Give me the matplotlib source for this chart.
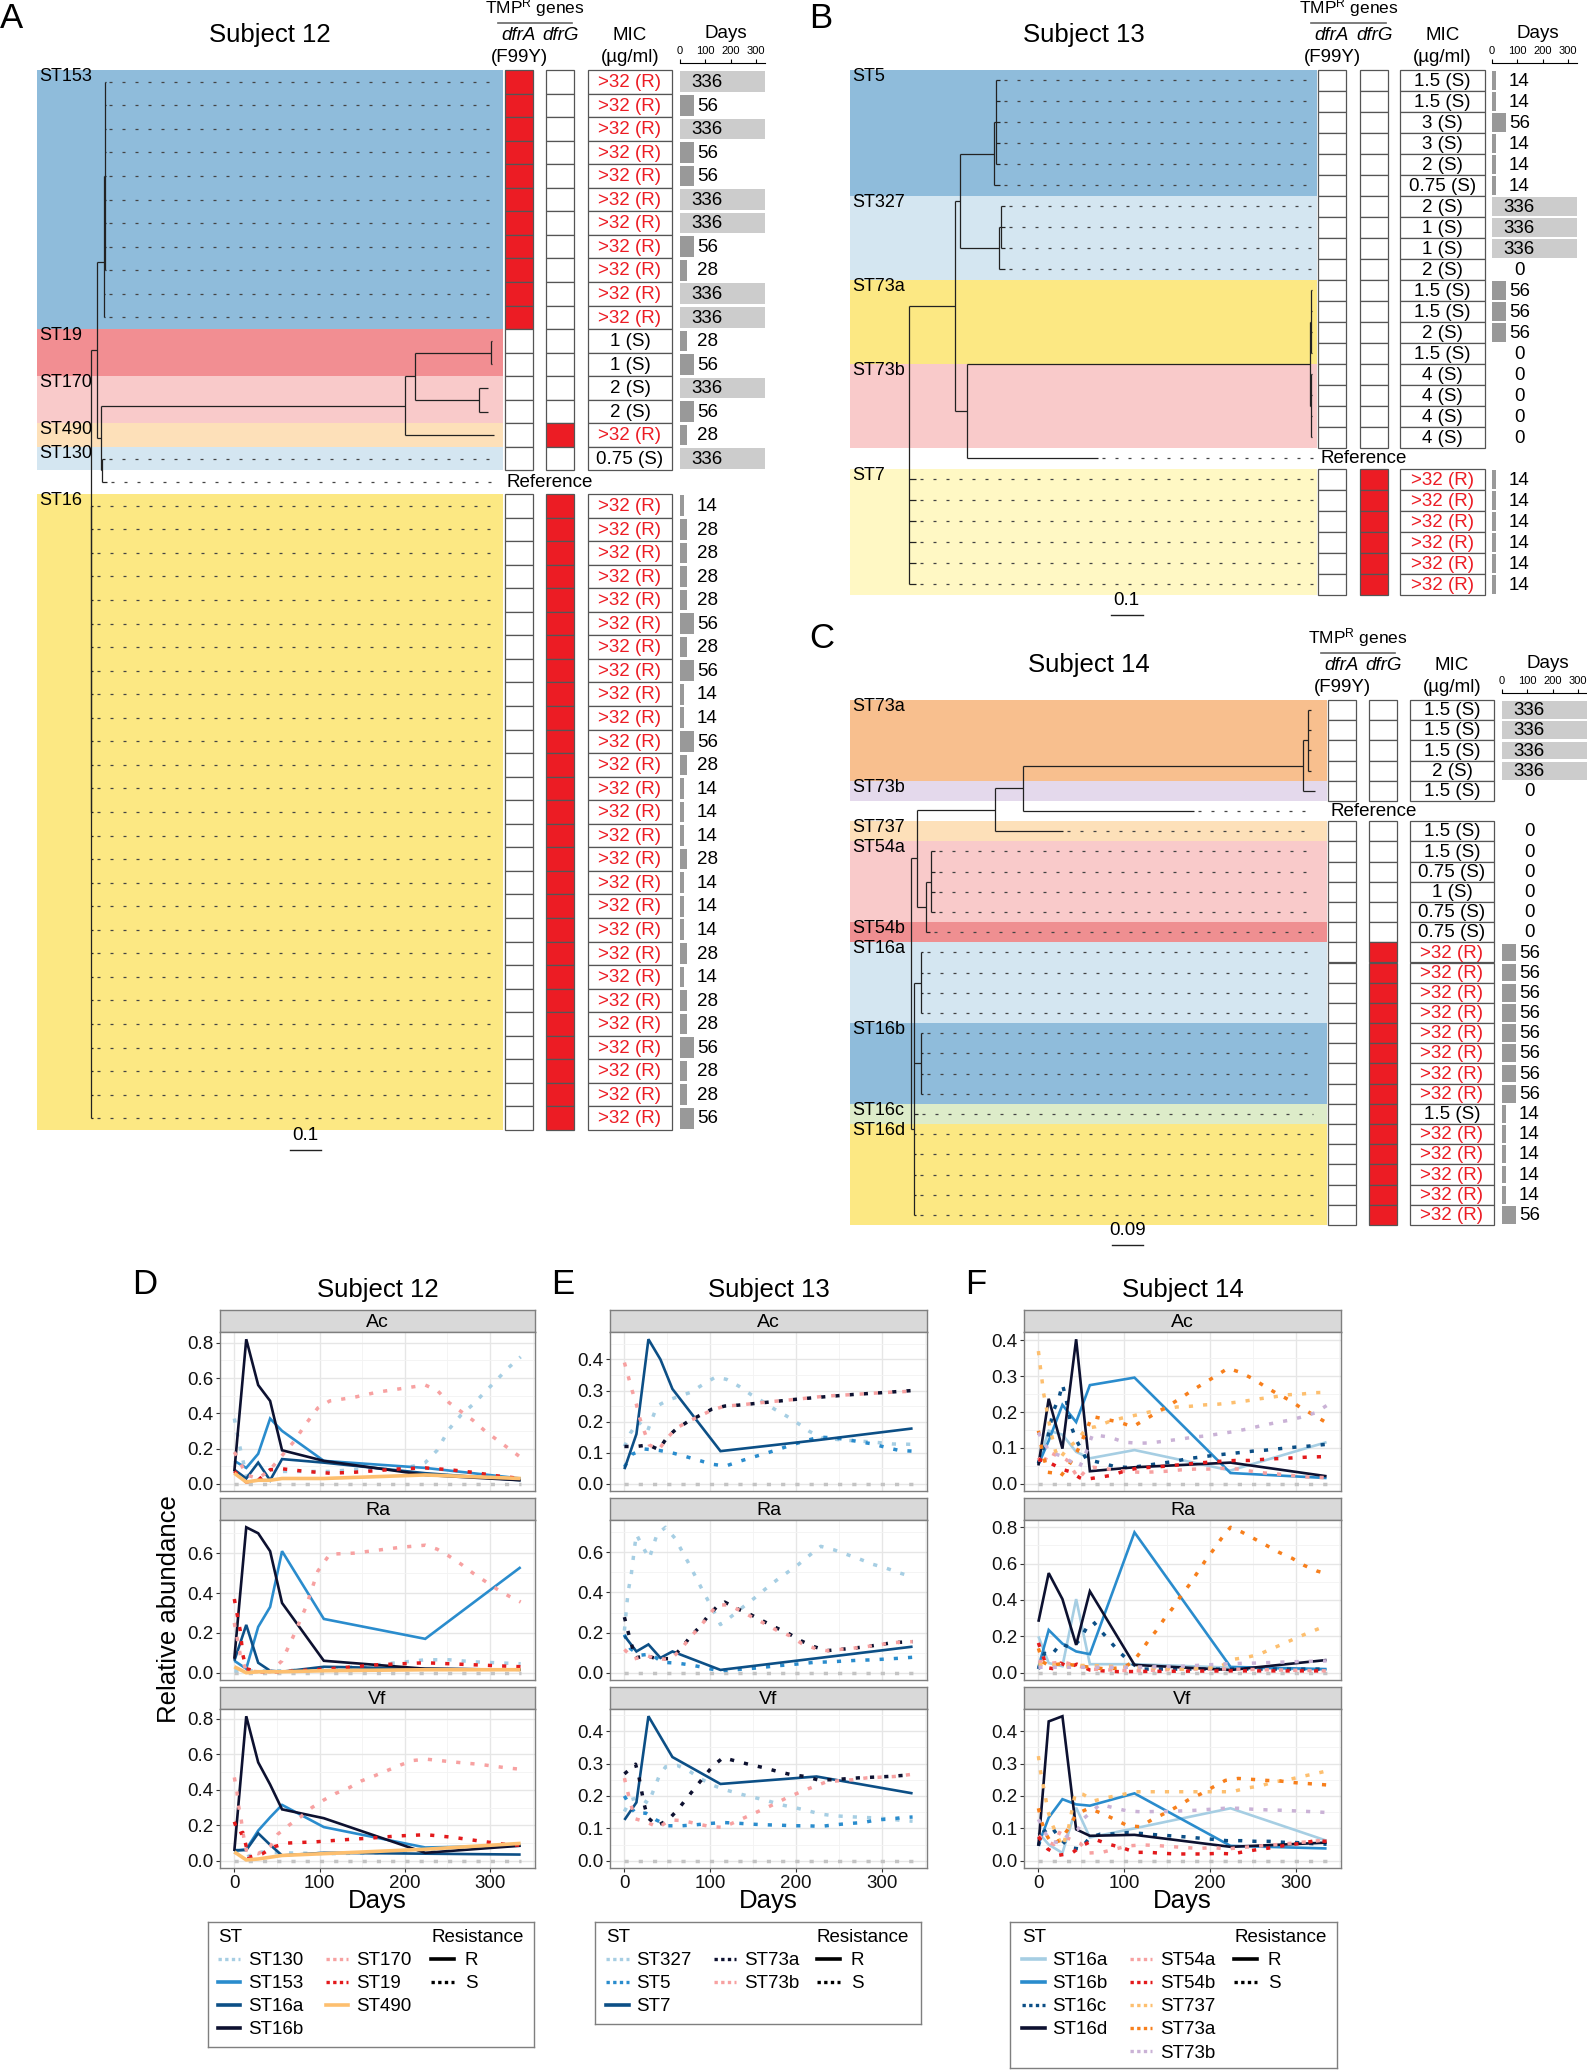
import matplotlib
matplotlib.use('Agg')
import matplotlib.pyplot as plt
from matplotlib.lines import Line2D
from matplotlib.transforms import blended_transform_factory
from matplotlib.ticker import MultipleLocator, FormatStrFormatter

plt.rcParams['font.family'] = ['Liberation Sans', 'DejaVu Sans']
plt.rcParams['mathtext.fontset'] = 'custom'
plt.rcParams['mathtext.rm'] = 'Liberation Sans'
plt.rcParams['mathtext.it'] = 'Liberation Sans:italic'

# ======================= DATA : trees / tables =======================
def leaves(prefix, n, bl):
    return [(bl, '%s_%d' % (prefix, i)) for i in range(n)]

# node = (branch_length, [children]) ; leaf = (branch_length, name)
tree12 = (0.0, [
    (0.020, [
        (0.022, [(0.002, leaves('ST153', 9, 0.003)), (0.004, 'ST153_9'), (0.004, 'ST153_10')]),
        (0.013, [
            (0.980, [
                (0.033, [(0.245, leaves('ST19', 2, 0.002)), (0.206, leaves('ST170', 2, 0.030))]),
                (0.287, 'ST490'),
            ]),
            (0.003, [(0.010, 'ST130'), (0.015, 'Reference')]),
        ]),
    ]),
    (0.0, leaves('ST16', 27, 0.008)),
])
tree13 = (0.0, [
    (0.146, [
        (0.016, [
            (0.108, [(0.005, leaves('ST5', 5, 0.015)), (0.020, 'ST5_5')]),
            (0.124, [(0.005, leaves('ST327', 3, 0.015)), (0.020, 'ST327_3')]),
        ]),
        (0.038, [
            (1.089, [(0.003, leaves('ST73a', 4, 0.004)), (0.003, leaves('ST73b', 4, 0.004))]),
            (0.416, 'Reference'),
        ]),
    ]),
] + leaves('ST7', 6, 0.022))
tree14 = (0.0, [
    (0.017, [
        (0.227, [
            (0.081, [
                (0.814, [(0.015, leaves('ST73a', 4, 0.010)), (0.035, 'ST73b')]),
                (0.497, 'Reference'),
            ]),
            (0.198, 'ST737'),
        ]),
        (0.027, [(0.014, leaves('ST54a', 4, 0.012)), (0.012, 'ST54b')]),
    ]),
    (0.009, [(0.020, leaves('ST16a', 4, 0.005)), (0.020, leaves('ST16b', 4, 0.005)),
             (0.010, 'ST16c')] + leaves('ST16d', 5, 0.006)),
])

s12_clades = ['ST153', 'ST19', 'ST170', 'ST490', 'ST130', None, 'ST16']
s12_sizes = [11, 2, 2, 1, 1, 1, 27]
s12_dfrA = [1]*11 + [0, 0, 0, 0, 0, 0, None] + [0]*27
s12_dfrG = [0]*11 + [0, 0, 0, 0, 1, 0, None] + [1]*27
s12_mic = ['>32 (R)']*11 + ['1 (S)', '1 (S)', '2 (S)', '2 (S)', '>32 (R)', '0.75 (S)', None] + ['>32 (R)']*27
s12_days = [336, 56, 336, 56, 56, 336, 336, 56, 28, 336, 336,
            28, 56, 336, 56, 28, 336, None,
            14, 28, 28, 28, 28, 56, 28, 56, 14, 14, 56, 28, 14, 14, 14, 28, 14, 14, 14, 28, 14, 28, 28, 56, 28, 28, 56]

s13_clades = ['ST5', 'ST327', 'ST73a', 'ST73b', None, 'ST7']
s13_sizes = [6, 4, 4, 4, 1, 6]
s13_dfrA = [0]*18 + [None] + [0]*6
s13_dfrG = [0]*18 + [None] + [1]*6
s13_mic = ['1.5 (S)', '1.5 (S)', '3 (S)', '3 (S)', '2 (S)', '0.75 (S)', '2 (S)', '1 (S)', '1 (S)', '2 (S)',
           '1.5 (S)', '1.5 (S)', '2 (S)', '1.5 (S)', '4 (S)', '4 (S)', '4 (S)', '4 (S)', None] + ['>32 (R)']*6
s13_days = [14, 14, 56, 14, 14, 14, 336, 336, 336, 0, 56, 56, 56, 0, 0, 0, 0, 0, None, 14, 14, 14, 14, 14, 14]

s14_clades = ['ST73a', 'ST73b', None, 'ST737', 'ST54a', 'ST54b', 'ST16a', 'ST16b', 'ST16c', 'ST16d']
s14_sizes = [4, 1, 1, 1, 4, 1, 4, 4, 1, 5]
s14_dfrA = [0]*5 + [None] + [0]*20
s14_dfrG = [0]*5 + [None] + [0]*6 + [1]*14
s14_mic = ['1.5 (S)', '1.5 (S)', '1.5 (S)', '2 (S)', '1.5 (S)', None, '1.5 (S)', '1.5 (S)', '0.75 (S)', '1 (S)',
           '0.75 (S)', '0.75 (S)'] + ['>32 (R)']*8 + ['1.5 (S)'] + ['>32 (R)']*5
s14_days = [336, 336, 336, 336, 0, None, 0, 0, 0, 0, 0, 0] + [56]*8 + [14, 14, 14, 14, 14, 56]

band_colors = {
    12: {'ST153': '#8fbcdb', 'ST19': '#f28e92', 'ST170': '#f9caca', 'ST490': '#fde0b9', 'ST130': '#d4e6f1', 'ST16': '#fce883'},
    13: {'ST5': '#8fbcdb', 'ST327': '#d4e6f1', 'ST73a': '#fce883', 'ST73b': '#f9caca', 'ST7': '#fff8c4'},
    14: {'ST73a': '#f8bf8e', 'ST73b': '#e4d9ec', 'ST737': '#fde0b9', 'ST54a': '#f9caca', 'ST54b': '#ef8f91',
         'ST16a': '#d4e6f1', 'ST16b': '#8fbcdb', 'ST16c': '#ddecc9', 'ST16d': '#fce883'},
}

# ======================= DATA : abundance time series =======================
other_days = [0, 336]
other_vals = [0, 0]

d12 = [0, 14, 28, 42, 56, 105, 224, 336]
s12_Ac = {
    'ST130': ([0, 7, 14, 28, 42, 56, 84, 112, 140, 168, 196, 210, 224, 238, 252, 266, 280, 294, 308, 322, 336],
              [0.37, 0.20, 0.05, 0.02, 0.08, 0.07, 0.07, 0.07, 0.08, 0.08, 0.09, 0.10, 0.12, 0.19, 0.31, 0.39, 0.45, 0.52, 0.59, 0.66, 0.72]),
    'ST153': (d12, [0.13, 0.09, 0.17, 0.37, 0.30, 0.13, 0.09, 0.03]),
    'ST16a': (d12, [0.08, 0.03, 0.12, 0.02, 0.14, 0.12, 0.06, 0.02]),
    'ST16b': (d12, [0.07, 0.82, 0.56, 0.47, 0.19, 0.13, 0.05, 0.02]),
    'ST170': ([0, 7, 14, 28, 42, 56, 70, 84, 98, 112, 140, 168, 196, 224, 238, 252, 266, 280, 294, 308, 322, 336],
              [0.18, 0.12, 0.05, 0.03, 0.08, 0.16, 0.24, 0.34, 0.43, 0.47, 0.49, 0.52, 0.54, 0.56, 0.53, 0.46, 0.41, 0.36, 0.30, 0.25, 0.20, 0.15]),
    'ST19': ([0, 14, 28, 42, 56, 84, 112, 140, 168, 196, 224, 252, 280, 308, 336],
             [0.07, 0.01, 0.02, 0.08, 0.085, 0.07, 0.06, 0.065, 0.075, 0.085, 0.09, 0.08, 0.065, 0.045, 0.03]),
    'ST490': (d12, [0.06, 0.01, 0.02, 0.02, 0.03, 0.03, 0.05, 0.03]),
}
s12_Ra = {
    'ST130': ([0, 56, 112, 168, 224, 252, 280, 308, 336], [0.01, 0.01, 0.02, 0.04, 0.065, 0.065, 0.055, 0.05, 0.045]),
    'ST153': (d12, [0.06, 0.02, 0.23, 0.33, 0.61, 0.27, 0.17, 0.53]),
    'ST16a': (d12, [0.06, 0.24, 0.05, 0.01, 0.005, 0.03, 0.02, 0.015]),
    'ST16b': (d12, [0.07, 0.73, 0.70, 0.61, 0.35, 0.06, 0.02, 0.015]),
    'ST170': ([0, 7, 14, 28, 42, 56, 70, 84, 98, 112, 140, 168, 196, 224, 238, 252, 266, 280, 294, 308, 322, 336],
              [0.25, 0.09, 0.01, 0.005, 0.005, 0.06, 0.19, 0.33, 0.51, 0.595, 0.60, 0.615, 0.63, 0.64, 0.62, 0.585, 0.545, 0.50, 0.46, 0.42, 0.385, 0.355]),
    'ST19': ([0, 3, 7, 10, 14, 28, 56, 112, 140, 168, 196, 224, 252, 280, 308, 336],
             [0.37, 0.30, 0.21, 0.09, 0.02, 0.005, 0.005, 0.02, 0.03, 0.04, 0.045, 0.05, 0.045, 0.04, 0.035, 0.03]),
    'ST490': (d12, [0.03, 0.0, 0.005, 0.005, 0.005, 0.01, 0.015, 0.015]),
}
s12_Vf = {
    'ST130': ([0, 14, 28, 56, 112, 168, 224, 280, 336], [0.05, 0.02, 0.05, 0.045, 0.04, 0.045, 0.06, 0.07, 0.09]),
    'ST153': (d12, [0.055, 0.065, 0.17, 0.245, 0.315, 0.19, 0.075, 0.085]),
    'ST16a': (d12, [0.06, 0.06, 0.155, 0.09, 0.03, 0.045, 0.04, 0.035]),
    'ST16b': (d12, [0.055, 0.815, 0.555, 0.43, 0.29, 0.24, 0.045, 0.085]),
    'ST170': ([0, 3, 5, 8, 10, 14, 28, 42, 51, 64, 77, 91, 104, 119, 134, 149, 165, 180, 195, 209, 225, 257, 289, 321, 336],
              [0.47, 0.39, 0.31, 0.235, 0.16, 0.06, 0.04, 0.08, 0.15, 0.20, 0.245, 0.30, 0.34, 0.38, 0.41, 0.45, 0.48, 0.51, 0.54, 0.565, 0.573, 0.557, 0.543, 0.523, 0.516]),
    'ST19': ([0, 5, 10, 17, 33, 47, 63, 96, 127, 160, 192, 225, 257, 290, 322, 336],
             [0.22, 0.15, 0.16, 0.02, 0.04, 0.08, 0.10, 0.107, 0.118, 0.128, 0.14, 0.147, 0.132, 0.11, 0.09, 0.088]),
    'ST490': (d12, [0.05, 0.005, 0.01, 0.02, 0.03, 0.04, 0.065, 0.098]),
}

d13 = [0, 14, 28, 42, 56, 112, 224, 336]
s13_Ac = {
    'ST327': ([0, 7, 16, 27, 38, 50, 77, 92, 106, 119, 134, 147, 161, 175, 189, 203, 216, 231, 258, 287, 313, 336],
              [0.12, 0.163, 0.20, 0.17, 0.25, 0.268, 0.294, 0.32, 0.343, 0.336, 0.313, 0.288, 0.265, 0.24, 0.218, 0.193, 0.168, 0.147, 0.14, 0.135, 0.128, 0.127]),
    'ST5': ([0, 9, 23, 41, 55, 71, 86, 102, 118, 134, 149, 165, 181, 196, 211, 227, 243, 258, 274, 290, 306, 321, 336],
            [0.054, 0.095, 0.112, 0.107, 0.10, 0.088, 0.076, 0.063, 0.057, 0.072, 0.085, 0.098, 0.112, 0.126, 0.138, 0.15, 0.148, 0.143, 0.135, 0.128, 0.116, 0.107, 0.105]),
    'ST7': (d13, [0.047, 0.16, 0.465, 0.40, 0.305, 0.105, 0.14, 0.178]),
    'ST73a': ([0, 14, 28, 40, 50, 60, 74, 88, 102, 117, 133, 166, 201, 234, 266, 300, 336],
              [0.12, 0.12, 0.125, 0.11, 0.15, 0.175, 0.20, 0.22, 0.24, 0.25, 0.253, 0.262, 0.272, 0.28, 0.287, 0.293, 0.30]),
    'ST73b': ([0, 5, 9, 14, 18, 23, 29, 40, 50, 60, 74, 88, 102, 117, 133, 166, 201, 234, 266, 300, 336],
              [0.39, 0.34, 0.30, 0.255, 0.21, 0.17, 0.125, 0.11, 0.147, 0.178, 0.20, 0.218, 0.237, 0.25, 0.253, 0.263, 0.272, 0.282, 0.287, 0.293, 0.298]),
}
s13_Ra = {
    'ST327': ([0, 3, 5, 8, 10, 12, 14, 21, 29, 38, 48, 59, 75, 90, 105, 112, 126, 139, 151, 164, 177, 190, 203, 216, 229, 244, 259, 274, 290, 306, 321, 336],
              [0.21, 0.35, 0.42, 0.49, 0.56, 0.63, 0.69, 0.63, 0.57, 0.69, 0.725, 0.67, 0.545, 0.42, 0.30, 0.24, 0.285, 0.33, 0.37, 0.416, 0.46, 0.50, 0.54, 0.586, 0.63, 0.613, 0.59, 0.567, 0.54, 0.52, 0.497, 0.478]),
    'ST5': ([0, 7, 18, 31, 44, 61, 77, 94, 110, 126, 141, 158, 174, 190, 206, 222, 239, 255, 272, 288, 304, 320, 336],
            [0.19, 0.12, 0.087, 0.093, 0.052, 0.048, 0.039, 0.025, 0.01, 0.014, 0.019, 0.025, 0.033, 0.039, 0.045, 0.052, 0.054, 0.058, 0.062, 0.064, 0.068, 0.072, 0.077]),
    'ST7': (d13, [0.184, 0.106, 0.141, 0.074, 0.106, 0.014, 0.072, 0.13]),
    'ST73a': ([0, 4, 8, 13, 25, 38, 54, 66, 76, 88, 97, 108, 117, 131, 147, 162, 176, 192, 206, 221, 236, 251, 266, 282, 298, 313, 336],
              [0.277, 0.209, 0.145, 0.074, 0.085, 0.07, 0.07, 0.12, 0.175, 0.23, 0.28, 0.33, 0.352, 0.32, 0.29, 0.257, 0.226, 0.194, 0.159, 0.13, 0.11, 0.116, 0.122, 0.13, 0.14, 0.15, 0.155]),
    'ST73b': ([0, 11, 25, 38, 54, 66, 76, 88, 98, 108, 121, 135, 149, 163, 177, 193, 207, 223, 236, 251, 266, 282, 298, 313, 336],
              [0.116, 0.068, 0.087, 0.068, 0.068, 0.116, 0.174, 0.228, 0.284, 0.338, 0.338, 0.31, 0.277, 0.246, 0.213, 0.184, 0.145, 0.12, 0.11, 0.116, 0.122, 0.13, 0.14, 0.15, 0.155]),
}
s13_Vf = {
    'ST327': ([0, 7, 17, 28, 34, 40, 48, 62, 76, 89, 104, 119, 135, 150, 166, 182, 197, 213, 229, 244, 262, 278, 293, 309, 325, 336],
              [0.152, 0.188, 0.196, 0.177, 0.218, 0.258, 0.29, 0.294, 0.276, 0.253, 0.232, 0.218, 0.206, 0.196, 0.186, 0.173, 0.165, 0.155, 0.144, 0.139, 0.136, 0.134, 0.132, 0.129, 0.124, 0.122]),
    'ST5': ([0, 7, 13, 25, 37, 51, 67, 83, 99, 115, 131, 148, 164, 180, 197, 213, 229, 245, 262, 278, 294, 310, 327, 336],
            [0.20, 0.167, 0.146, 0.147, 0.126, 0.108, 0.108, 0.111, 0.115, 0.118, 0.116, 0.113, 0.111, 0.11, 0.108, 0.108, 0.106, 0.111, 0.115, 0.118, 0.126, 0.129, 0.134, 0.135]),
    'ST7': (d13, [0.126, 0.18, 0.446, 0.383, 0.32, 0.237, 0.26, 0.208]),
    'ST73a': ([0, 13, 17, 20, 23, 27, 38, 51, 63, 73, 83, 93, 103, 115, 131, 146, 163, 178, 194, 211, 225, 242, 258, 274, 290, 307, 323, 336],
              [0.268, 0.298, 0.258, 0.216, 0.175, 0.134, 0.108, 0.126, 0.16, 0.194, 0.227, 0.26, 0.292, 0.318, 0.307, 0.297, 0.287, 0.276, 0.266, 0.26, 0.25, 0.25, 0.253, 0.256, 0.258, 0.26, 0.263, 0.265]),
    'ST73b': ([0, 4, 8, 12, 25, 40, 53, 68, 83, 99, 115, 131, 145, 160, 175, 189, 204, 219, 234, 250, 266, 283, 299, 315, 336],
              [0.255, 0.211, 0.17, 0.13, 0.12, 0.103, 0.126, 0.124, 0.115, 0.106, 0.103, 0.122, 0.139, 0.157, 0.175, 0.194, 0.211, 0.227, 0.242, 0.247, 0.25, 0.256, 0.258, 0.26, 0.267]),
}

d14 = [0, 12, 28, 44, 60, 112, 224, 336]
s14_Ac = {
    'ST16a': (d14, [0.057, 0.148, 0.137, 0.089, 0.071, 0.094, 0.037, 0.116]),
    'ST16b': (d14, [0.054, 0.12, 0.22, 0.172, 0.275, 0.296, 0.03, 0.016]),
    'ST16c': ([0, 5, 11, 17, 24, 28, 32, 38, 44, 56, 72, 89, 107, 125, 142, 158, 174, 191, 207, 223, 235, 250, 266, 282, 299, 315, 336],
              [0.057, 0.094, 0.13, 0.20, 0.24, 0.277, 0.24, 0.162, 0.123, 0.068, 0.059, 0.048, 0.045, 0.051, 0.057, 0.062, 0.07, 0.075, 0.08, 0.084, 0.087, 0.091, 0.094, 0.098, 0.102, 0.105, 0.11]),
    'ST16d': (d14, [0.051, 0.237, 0.098, 0.403, 0.035, 0.046, 0.059, 0.021]),
    'ST54a': ([0, 5, 12, 20, 28, 34, 40, 47, 56, 64, 85, 101, 118, 134, 150, 167, 183, 199, 215, 232, 248, 264, 280, 296, 313, 336],
              [0.073, 0.05, 0.089, 0.08, 0.073, 0.065, 0.04, 0.014, 0.04, 0.046, 0.04, 0.035, 0.032, 0.033, 0.035, 0.039, 0.041, 0.041, 0.043, 0.041, 0.035, 0.03, 0.027, 0.023, 0.019, 0.017]),
    'ST54b': ([0, 12, 28, 38, 48, 54, 84, 100, 116, 132, 148, 165, 181, 198, 214, 230, 246, 262, 278, 295, 311, 336],
              [0.068, 0.06, 0.04, 0.033, 0.017, 0.012, 0.023, 0.035, 0.044, 0.046, 0.049, 0.053, 0.057, 0.06, 0.063, 0.065, 0.065, 0.068, 0.07, 0.072, 0.074, 0.076]),
    'ST737': ([0, 2, 4, 6, 9, 14, 20, 25, 34, 45, 56, 67, 82, 97, 113, 129, 145, 161, 177, 194, 210, 226, 242, 258, 274, 290, 306, 323, 336],
              [0.37, 0.33, 0.293, 0.253, 0.216, 0.15, 0.09, 0.07, 0.10, 0.12, 0.155, 0.159, 0.173, 0.183, 0.191, 0.20, 0.207, 0.214, 0.216, 0.22, 0.222, 0.226, 0.231, 0.237, 0.242, 0.248, 0.25, 0.254, 0.255]),
    'ST73a': ([0, 5, 11, 18, 26, 35, 45, 50, 57, 62, 78, 94, 110, 125, 139, 152, 166, 179, 193, 207, 221, 235, 250, 263, 277, 292, 306, 320, 336],
              [0.148, 0.084, 0.032, 0.03, 0.021, 0.05, 0.089, 0.116, 0.153, 0.188, 0.18, 0.172, 0.159, 0.18, 0.20, 0.218, 0.239, 0.26, 0.28, 0.301, 0.322, 0.311, 0.293, 0.273, 0.253, 0.234, 0.212, 0.193, 0.17]),
    'ST73b': ([0, 7, 15, 26, 34, 48, 56, 63, 83, 100, 116, 131, 147, 164, 181, 197, 213, 229, 244, 260, 276, 292, 307, 323, 336],
              [0.143, 0.11, 0.087, 0.078, 0.068, 0.046, 0.09, 0.137, 0.13, 0.116, 0.113, 0.114, 0.119, 0.124, 0.13, 0.134, 0.14, 0.146, 0.153, 0.162, 0.17, 0.177, 0.186, 0.198, 0.218]),
}
s14_Ra = {
    'ST16a': (d14, [0.2, 0.053, 0.036, 0.405, 0.047, 0.047, 0.028, 0.017]),
    'ST16b': (d14, [0.03, 0.235, 0.16, 0.117, 0.102, 0.772, 0.032, 0.02]),
    'ST16c': ([0, 7, 15, 26, 39, 48, 56, 64, 74, 85, 96, 107, 119, 168, 224, 280, 336],
              [0.02, 0.107, 0.096, 0.16, 0.135, 0.18, 0.245, 0.28, 0.224, 0.164, 0.107, 0.058, 0.02, 0.02, 0.02, 0.02, 0.02]),
    'ST16d': (d14, [0.28, 0.548, 0.405, 0.153, 0.448, 0.043, 0.015, 0.07]),
    'ST54a': ([0, 12, 28, 44, 60, 112, 168, 224, 280, 336], [0.064, 0.05, 0.06, 0.04, 0.02, 0.01, 0.02, 0.02, 0.015, 0.01]),
    'ST54b': ([0, 5, 10, 20, 26, 36, 45, 60, 76, 93, 150, 224, 336],
              [0.164, 0.096, 0.028, 0.02, 0.053, 0.03, 0.047, 0.015, 0.01, 0.006, 0.008, 0.01, 0.01]),
    'ST737': ([0, 12, 28, 44, 60, 112, 168, 210, 229, 243, 257, 270, 286, 300, 317, 331, 336],
              [0.043, 0.05, 0.03, 0.04, 0.04, 0.03, 0.02, 0.03, 0.075, 0.085, 0.10, 0.128, 0.16, 0.19, 0.224, 0.25, 0.258]),
    'ST73a': ([0, 5, 12, 28, 44, 60, 80, 100, 110, 118, 128, 138, 147, 157, 166, 176, 185, 194, 204, 213, 224, 237, 252, 266, 281, 296, 310, 325, 336],
              [0.134, 0.06, 0.04, 0.05, 0.04, 0.03, 0.02, 0.03, 0.06, 0.107, 0.175, 0.235, 0.298, 0.358, 0.422, 0.484, 0.548, 0.612, 0.676, 0.736, 0.80, 0.774, 0.736, 0.70, 0.661, 0.629, 0.59, 0.559, 0.545]),
    'ST73b': ([0, 56, 112, 168, 196, 224, 252, 280, 308, 336], [0.03, 0.03, 0.03, 0.036, 0.043, 0.05, 0.053, 0.058, 0.062, 0.065]),
}
s14_Vf = {
    'ST16a': (d14, [0.087, 0.05, 0.024, 0.164, 0.072, 0.10, 0.162, 0.062]),
    'ST16b': (d14, [0.05, 0.133, 0.19, 0.174, 0.17, 0.208, 0.046, 0.038]),
    'ST16c': ([0, 5, 15, 24, 36, 49, 60, 72, 88, 105, 121, 138, 154, 170, 187, 204, 220, 237, 253, 269, 286, 302, 319, 336],
              [0.046, 0.087, 0.106, 0.072, 0.041, 0.036, 0.072, 0.082, 0.083, 0.087, 0.084, 0.08, 0.077, 0.074, 0.07, 0.066, 0.062, 0.062, 0.06, 0.06, 0.057, 0.056, 0.053, 0.051]),
    'ST16d': (d14, [0.046, 0.43, 0.446, 0.097, 0.077, 0.08, 0.043, 0.056]),
    'ST54a': ([0, 10, 18, 26, 34, 49, 59, 74, 89, 105, 122, 138, 154, 170, 187, 204, 219, 236, 253, 268, 284, 301, 317, 336],
              [0.077, 0.06, 0.05, 0.094, 0.07, 0.053, 0.024, 0.026, 0.036, 0.046, 0.049, 0.047, 0.044, 0.041, 0.038, 0.041, 0.036, 0.041, 0.044, 0.048, 0.051, 0.056, 0.059, 0.065]),
    'ST54b': ([0, 11, 24, 39, 52, 66, 82, 97, 113, 129, 145, 161, 177, 194, 210, 226, 242, 259, 274, 291, 307, 323, 336],
              [0.074, 0.036, 0.017, 0.024, 0.048, 0.066, 0.051, 0.041, 0.026, 0.026, 0.023, 0.021, 0.021, 0.021, 0.023, 0.021, 0.029, 0.036, 0.041, 0.049, 0.054, 0.062, 0.06]),
    'ST737': ([0, 2, 5, 8, 11, 16, 22, 28, 35, 43, 52, 65, 80, 96, 112, 128, 145, 161, 177, 194, 210, 226, 242, 259, 274, 291, 307, 323, 336],
              [0.323, 0.282, 0.241, 0.20, 0.154, 0.113, 0.077, 0.043, 0.10, 0.208, 0.205, 0.185, 0.195, 0.203, 0.213, 0.213, 0.213, 0.213, 0.213, 0.213, 0.213, 0.213, 0.224, 0.231, 0.243, 0.25, 0.26, 0.269, 0.277]),
    'ST73a': ([0, 4, 10, 16, 26, 36, 44, 59, 74, 89, 104, 119, 133, 147, 161, 176, 190, 204, 218, 233, 250, 266, 282, 299, 315, 336],
              [0.162, 0.118, 0.077, 0.051, 0.065, 0.103, 0.144, 0.162, 0.146, 0.128, 0.108, 0.105, 0.128, 0.146, 0.166, 0.19, 0.207, 0.228, 0.248, 0.254, 0.251, 0.248, 0.246, 0.241, 0.238, 0.234]),
    'ST73b': ([0, 7, 14, 26, 38, 46, 53, 72, 87, 103, 120, 135, 152, 168, 185, 201, 217, 233, 250, 267, 282, 299, 315, 336],
              [0.128, 0.09, 0.06, 0.055, 0.09, 0.097, 0.131, 0.174, 0.164, 0.154, 0.151, 0.152, 0.152, 0.154, 0.156, 0.159, 0.162, 0.162, 0.159, 0.157, 0.156, 0.154, 0.152, 0.149]),
}

LBLUE, BLUE, DBLUE, NAVY = '#a6cee3', '#2a8ccd', '#0c4f86', '#0d1130'
PINK, REDL, LORANGE, ORANGE, LPURPLE, GRAY0 = '#f7a1a1', '#e31a1c', '#fdbf6f', '#f77f1c', '#cab2d6', '#c4c4c4'

s12_order = ['ST130', 'ST153', 'ST16a', 'ST16b', 'ST170', 'ST19', 'ST490']
s12_col = {'ST130': LBLUE, 'ST153': BLUE, 'ST16a': DBLUE, 'ST16b': NAVY, 'ST170': PINK, 'ST19': REDL, 'ST490': LORANGE}
s12_res = {'ST130': 'S', 'ST153': 'R', 'ST16a': 'R', 'ST16b': 'R', 'ST170': 'S', 'ST19': 'S', 'ST490': 'R'}
s13_order = ['ST327', 'ST5', 'ST7', 'ST73a', 'ST73b']
s13_col = {'ST327': LBLUE, 'ST5': BLUE, 'ST7': DBLUE, 'ST73a': NAVY, 'ST73b': PINK}
s13_res = {'ST327': 'S', 'ST5': 'S', 'ST7': 'R', 'ST73a': 'S', 'ST73b': 'S'}
s14_order = ['ST16a', 'ST16b', 'ST16c', 'ST16d', None, 'ST54a', 'ST54b', 'ST737', 'ST73a', 'ST73b']
s14_col = {'ST16a': LBLUE, 'ST16b': BLUE, 'ST16c': DBLUE, 'ST16d': NAVY, 'ST54a': PINK, 'ST54b': REDL,
           'ST737': LORANGE, 'ST73a': ORANGE, 'ST73b': LPURPLE}
s14_res = {'ST16a': 'R', 'ST16b': 'R', 'ST16c': 'S', 'ST16d': 'R', 'ST54a': 'S', 'ST54b': 'S',
           'ST737': 'S', 'ST73a': 'S', 'ST73b': 'S'}

# ======================= FIGURE =======================
W, H = 1587, 2070
fig = plt.figure(figsize=(W / 100, H / 100), dpi=100)
RED = '#ec1c24'
TAB_FS = 13.5
HEAD_FS = 13.5


def pax(x0, y0, x1, y1):
    return fig.add_axes([x0 / W, 1 - y1 / H, (x1 - x0) / W, (y1 - y0) / H])


def ftext(x, y, s, **kw):
    return fig.text(x / W, 1 - y / H, s, **kw)


def layout(node, x0, counter, segs, tips):
    bl, content = node
    x = x0 + bl
    if isinstance(content, str):
        y = counter[0]
        counter[0] += 1
        tips.append((x, y, content))
        segs.append(([x0, x], [y, y]))
        return y
    ys = [layout(ch, x, counter, segs, tips) for ch in content]
    y = sum(ys) / len(ys)
    segs.append(([x0, x], [y, y]))
    segs.append(([x, x], [min(ys), max(ys)]))
    return y


def cell_column(x0, x1, y0, y1, nrows, fills, texts=None):
    ax = pax(x0, y0, x1, y1)
    rows = [i for i, f in enumerate(fills) if f is not None]
    bars = ax.barh(rows, [1] * len(rows), left=0, height=1.0, color=[fills[i] for i in rows],
                   edgecolor='#555555', linewidth=0.9)
    for b in bars:
        b.set_clip_on(False)
    if texts is not None:
        for i in rows:
            t = texts[i]
            ax.text(0.5, i + 0.03, t, ha='center', va='center', fontsize=TAB_FS,
                    color=RED if '(R)' in t else 'black')
    ax.set_xlim(0, 1)
    ax.set_ylim(nrows - 0.5, -0.5)
    ax.axis('off')


def tree_panel(sid, tree, clades, sizes, dfrA, dfrG, mic, days, tb, root_px, ppu, tip_end,
               scale_len, scale_px, cols, letter_xy):
    tx0, ty0, tx1, ty1 = tb
    nrows = sum(sizes)
    rowh = (ty1 - ty0) / nrows
    ax = pax(tx0, ty0, tx1, ty1)
    xl = -(root_px - tx0) / ppu
    xr = (tx1 - root_px) / ppu
    ax.set_xlim(xl, xr)
    ax.set_ylim(nrows - 0.5, -0.5)
    ax.axis('off')
    start = 0
    tr = blended_transform_factory(ax.transAxes, ax.transData)
    for name, n in zip(clades, sizes):
        if name is not None:
            ax.axhspan(start - 0.5, start + n - 0.5, color=band_colors[sid][name], lw=0, zorder=0)
            ax.annotate(name, xy=(0, start - 0.5), xycoords=tr, xytext=(1.5, 1.5),
                        textcoords='offset points', ha='left', va='top', fontsize=13, zorder=5)
        start += n
    segs, tips = [], []
    layout(tree, 0.0, [0], segs, tips)
    for xs, ys in segs:
        ax.plot(xs, ys, color='#222222', lw=0.9, solid_capstyle='butt', zorder=3)
    for x, y, name in tips:
        if tip_end - x > 0.03:
            ax.plot([x + 0.012, tip_end], [y, y], color='#444444', lw=0.9, ls=(0, (2.4, 8.0)), zorder=2)
    # scale bar
    trs = blended_transform_factory(ax.transData, ax.transAxes)
    sx = (scale_px - root_px) / ppu
    yl = (ty1 - (ty1 + 20)) / (ty1 - ty0)
    ax.plot([sx, sx + scale_len], [yl, yl], color='#222222', lw=1.0, transform=trs, clip_on=False)
    ax.text(sx + scale_len / 2, (ty1 - (ty1 - 3)) / (ty1 - ty0), ('%g' % scale_len), transform=trs,
            ha='center', va='top', fontsize=13.5)
    # columns
    (ax0, ax1), (gx0, gx1), (mx0, mx1), (dx0, dx1) = cols
    cell_column(ax0, ax1, ty0, ty1, nrows, [None if f is None else (RED if f else 'white') for f in dfrA])
    cell_column(gx0, gx1, ty0, ty1, nrows, [None if f is None else (RED if f else 'white') for f in dfrG])
    cell_column(mx0, mx1, ty0, ty1, nrows, [None if m is None else 'white' for m in mic], mic)
    dax = pax(dx0, ty0, dx1, ty1)
    rows = [i for i, d in enumerate(days) if d is not None]
    vals = [days[i] for i in rows]
    dax.barh(rows, vals, height=0.88, color=['#cccccc' if v >= 300 else '#999999' for v in vals])
    for r, v in zip(rows, vals):
        dax.text(108, r + 0.03, str(v), ha='center', va='center', fontsize=TAB_FS)
    dax.set_xlim(0, 336)
    dax.set_ylim(nrows - 0.5, -0.5)
    dax.axis('off')
    # days scale
    sax = pax(dx0, ty0 - 13, dx1, ty0 - 7)
    sax.set_xlim(0, 336)
    for k in ['top', 'left', 'right']:
        sax.spines[k].set_visible(False)
    sax.spines['bottom'].set_linewidth(0.8)
    sax.set_yticks([])
    sax.set_xticks([0, 100, 200, 300])
    sax.tick_params(axis='x', direction='in', length=3, width=0.8, bottom=True, top=False,
                    labelbottom=False, labeltop=True, labelsize=8, pad=1)
    sax.patch.set_alpha(0)
    # reference label
    ref_row = [i for i, m in enumerate(mic) if m is None][0]
    ftext(ax0 + 2, ty0 + (ref_row + 0.5) * rowh, 'Reference', ha='left', va='center', fontsize=TAB_FS)
    # headers
    ca, cg = (ax0 + ax1) / 2, (gx0 + gx1) / 2
    ftext((ca + cg) / 2 - 4.5, ty0 - 62, r'TMP$^{\mathrm{R}}$ genes', ha='center', va='center', fontsize=12.5)
    fig.add_artist(Line2D([(ax0 - 7) / W, (gx1 - 2) / W], [1 - (ty0 - 47) / H] * 2, color='#666666', lw=1.2))
    ftext(ca, ty0 - 35, 'dfrA', ha='center', va='center', fontsize=HEAD_FS, style='italic')
    ftext(cg + 1, ty0 - 35, 'dfrG', ha='center', va='center', fontsize=HEAD_FS, style='italic')
    ftext(ca, ty0 - 13, '(F99Y)', ha='center', va='center', fontsize=HEAD_FS)
    ftext((mx0 + mx1) / 2, ty0 - 35, 'MIC', ha='center', va='center', fontsize=HEAD_FS)
    ftext((mx0 + mx1) / 2, ty0 - 13, '(\u00b5g/ml)', ha='center', va='center', fontsize=HEAD_FS)
    ftext((dx0 + dx1) / 2 + 3, ty0 - 37, 'Days', ha='center', va='center', fontsize=HEAD_FS)
    ftext((tx0 + tx1) / 2, ty0 - 35, 'Subject %d' % sid, ha='center', va='center', fontsize=18.5)
    ftext(letter_xy[0], letter_xy[1], 'ABC'[sid - 12], ha='center', va='center', fontsize=25)


tree_panel(12, tree12, s12_clades, s12_sizes, s12_dfrA, s12_dfrG, s12_mic, s12_days,
           (37, 70, 503, 1130), 91, 310, 1.294, 0.1, 290,
           [(505, 533), (546, 574), (588, 672), (680, 765)], (12, 19))
tree_panel(13, tree13, s13_clades, s13_sizes, s13_dfrA, s13_dfrG, s13_mic, s13_days,
           (850, 70, 1317, 595), 909, 315, 1.283, 0.1, 1111,
           [(1318, 1346), (1360, 1388), (1400, 1485), (1492, 1577)], (821, 19))
tree_panel(14, tree14, s14_clades, s14_sizes, s14_dfrA, s14_dfrG, s14_mic, s14_days,
           (850, 700, 1327, 1225), 911, 344, 1.17, 0.09, 1112,
           [(1328, 1356), (1369, 1397), (1410, 1494), (1502, 1587)], (822, 639))

# ---------------- abundance panels ----------------
DOT_LS = (0, (1.2, 2.9))
DOT_LW = 2.5


def line_facet(ax, series, order, colors, resist, show_x):
    ax.plot(other_days, other_vals, color=GRAY0, lw=DOT_LW, ls=DOT_LS, zorder=2)
    vals = list(other_vals)
    for name in order:
        if name is None or name not in series:
            continue
        d, v = series[name]
        vals.extend(v)
        if resist[name] == 'R':
            ax.plot(d, v, color=colors[name], lw=(2.6 if name == 'ST490' else 1.9), zorder=3,
                    solid_joinstyle='miter', solid_capstyle='butt')
        else:
            ax.plot(d, v, color=colors[name], lw=DOT_LW, ls=DOT_LS, zorder=3)
    top = max(vals)
    pad = 0.05 * top
    ax.set_ylim(-pad, top + pad)
    ax.set_xlim(-16.8, 352.8)
    step = 0.2 if top > 0.5 else 0.1
    ax.yaxis.set_major_locator(MultipleLocator(step))
    ax.yaxis.set_minor_locator(MultipleLocator(step / 2))
    ax.xaxis.set_major_locator(MultipleLocator(100))
    ax.xaxis.set_minor_locator(MultipleLocator(50))
    ax.yaxis.set_major_formatter(FormatStrFormatter('%.1f'))
    ax.grid(which='major', color='#e6e6e6', lw=1.0)
    ax.grid(which='minor', color='#f3f3f3', lw=0.6)
    ax.set_axisbelow(True)
    ax.tick_params(which='minor', length=0)
    ax.tick_params(axis='y', which='major', length=3, color='#333333', labelsize=13.5, pad=2, labelcolor='#111111')
    if show_x:
        ax.tick_params(axis='x', which='major', length=3, color='#333333', labelsize=13.5, pad=2, labelcolor='#111111')
    else:
        ax.tick_params(axis='x', which='major', length=0, labelbottom=False)
    for s in ax.spines.values():
        s.set_color('#7f7f7f')
        s.set_linewidth(1.0)
        s.set_zorder(6)


rows_px = [(1310, 1332, 1491), (1498, 1520, 1680), (1687, 1709, 1868)]
facets = ['Ac', 'Ra', 'Vf']
subjects = [
    (12, (220, 535), [s12_Ac, s12_Ra, s12_Vf], s12_order, s12_col, s12_res, 'D', (145, 1285),
     (208, 1922, 534, 2047), (218, 1929), (431, 1929)),
    (13, (610, 927), [s13_Ac, s13_Ra, s13_Vf], s13_order, s13_col, s13_res, 'E', (563, 1285),
     (595, 1922, 921, 2024), (606, 1929), (817, 1929)),
    (14, (1024, 1341), [s14_Ac, s14_Ra, s14_Vf], s14_order, s14_col, s14_res, 'F', (976, 1285),
     (1010, 1922, 1337, 2068), (1022, 1929), (1234, 1929)),
]

LEG_FS = 13.5
for sid, (x0, x1), data, order, cols, res, letter, lxy, box, st_anchor, res_anchor in subjects:
    for k, (st, pt, pb) in enumerate(rows_px):
        sax = pax(x0, st, x1, pt)
        sax.set_facecolor('#d9d9d9')
        sax.set_xticks([])
        sax.set_yticks([])
        for s in sax.spines.values():
            s.set_color('#7f7f7f')
            s.set_linewidth(1.0)
        sax.text(0.5, 0.45, facets[k], ha='center', va='center', fontsize=14, transform=sax.transAxes)
        ax = pax(x0, pt, x1, pb)
        line_facet(ax, data[k], order, cols, res, k == 2)
    ftext((x0 + x1) / 2, 1290, 'Subject %d' % sid, ha='center', va='center', fontsize=18.5)
    ftext((x0 + x1) / 2, 1901, 'Days', ha='center', va='center', fontsize=18.5)
    ftext(lxy[0], lxy[1], letter, ha='center', va='center', fontsize=25)
    # legend box
    lax = pax(*box)
    lax.set_xticks([])
    lax.set_yticks([])
    for s in lax.spines.values():
        s.set_color('#7f7f7f')
        s.set_linewidth(1.0)
    hs, ls = [], []
    for name in order:
        if name is None:
            hs.append(Line2D([], [], color='none'))
            ls.append('')
        elif res[name] == 'R':
            hs.append(Line2D([], [], color=cols[name], lw=2.6))
            ls.append(name)
        else:
            hs.append(Line2D([], [], color=cols[name], lw=2.4, ls=(0, (1, 1))))
            ls.append(name)
    leg = lax.legend(hs, ls, title='ST', ncol=2, loc='upper left',
                     bbox_to_anchor=(st_anchor[0] / W, 1 - st_anchor[1] / H), bbox_transform=fig.transFigure,
                     frameon=False, fontsize=LEG_FS, title_fontsize=LEG_FS, alignment='left', handlelength=1.2,
                     handletextpad=0.4, columnspacing=1.2, labelspacing=0.32, borderpad=0, borderaxespad=0)
    lax.add_artist(leg)
    rh = [Line2D([], [], color='black', lw=2.6), Line2D([], [], color='black', lw=2.4, ls=(0, (1, 1)))]
    lax.legend(rh, ['R', 'S'], title='Resistance', loc='upper left',
               bbox_to_anchor=(res_anchor[0] / W, 1 - res_anchor[1] / H), bbox_transform=fig.transFigure,
               frameon=False, fontsize=LEG_FS, title_fontsize=LEG_FS, alignment='left', handlelength=1.2,
               handletextpad=0.6, labelspacing=0.32, borderpad=0, borderaxespad=0)

ftext(169, 1609, 'Relative abundance', ha='center', va='center', fontsize=18.5, rotation=90)

fig.savefig('out.png', dpi=100)
